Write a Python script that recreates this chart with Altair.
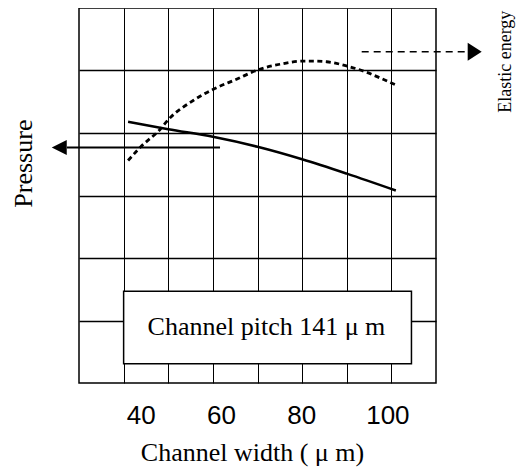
import altair as alt
import pandas as pd

# ---- data ----
pressure_x = [41, 50, 60, 70, 80, 90, 101]
pressure_y = [4.18, 4.06, 3.94, 3.78, 3.58, 3.35, 3.08]

energy_x = [41.0, 43.7, 48.2, 50.1, 55.6, 60.1, 65.3, 70.1, 75.0, 80.1, 82.4, 85.5, 90.1, 94.5, 97.5, 101.0]
energy_y = [3.56, 3.77, 4.06, 4.22, 4.52, 4.70, 4.86, 5.01, 5.10, 5.15, 5.15, 5.14, 5.07, 4.97, 4.88, 4.77]

x_domain = [30, 110]
y_domain = [0, 6]
x_grid = [40, 50, 60, 70, 80, 90, 100]
x_labels = [40, 60, 80, 100]
y_grid = [1, 2, 3, 4, 5]

box_x = [40, 104.5]
box_y = [0.31, 1.47]
box_text = "Channel pitch 141 \u03bc m"
box_text_pos = [72, 0.9]

pressure_arrow_x = [61.6, 27.3]
pressure_arrow_tip = 23.9
pressure_arrow_y = 3.77
energy_arrow_x = [93.35, 117.2]
energy_arrow_tip = 120.24
energy_arrow_y = 5.30

pressure_label = ["Pressure", 17.7, 3.51]
energy_label = ["Elastic energy", 125.6, 5.14]

SERIF = "Liberation Serif"
SANS = "Liberation Sans"

xs = alt.Scale(domain=x_domain, nice=False, zero=False)
ys = alt.Scale(domain=y_domain, nice=False, zero=False)

label_offset = {
    "condition": [
        {"test": "datum.value == 40", "value": 17},
        {"test": "datum.value == 60", "value": 8},
        {"test": "datum.value == 80", "value": -1},
        {"test": "datum.value == 100", "value": -4},
    ],
    "value": 0,
}

x_axis = alt.Axis(
    values=x_grid, grid=True, gridColor="black", gridWidth=1, gridOpacity=1,
    ticks=False, tickSize=0, domain=False,
    labelExpr="datum.value % 20 == 0 ? datum.label : ''",
    labelFont=SANS, labelFontSize=26, labelColor="black",
    labelBaseline="alphabetic", labelPadding=40, labelOffset=label_offset,
    title="Channel width ( \u03bc m)", titleFont=SERIF, titleFontSize=26,
    titleFontWeight="normal", titleColor="black",
    titleX=173, titleY=77, titleBaseline="alphabetic",
)
y_axis = alt.Axis(
    values=y_grid, grid=True, gridColor="black", gridWidth=1.3, gridOpacity=1,
    ticks=False, labels=False, domain=False, title=None,
)

pdf = pd.DataFrame({"x": pressure_x, "y": pressure_y})
edf = pd.DataFrame({"x": energy_x, "y": energy_y})

base_grid = alt.Chart(pd.DataFrame({"x": [x_domain[0]], "y": [y_domain[0]]})).mark_point(opacity=0).encode(
    x=alt.X("x:Q", scale=xs, axis=x_axis),
    y=alt.Y("y:Q", scale=ys, axis=y_axis),
)

box = alt.Chart(pd.DataFrame({"x": [box_x[0]], "x2": [box_x[1]], "y": [box_y[0]], "y2": [box_y[1]]})).mark_rect(
    fill="white", stroke="black", strokeWidth=1.5
).encode(x=alt.X("x:Q", scale=xs), x2="x2", y=alt.Y("y:Q", scale=ys), y2="y2")

box_label = alt.Chart(pd.DataFrame({"t": [box_text], "x": [box_text_pos[0]], "y": [box_text_pos[1]]})).mark_text(
    font=SERIF, fontSize=26, color="black", align="center", baseline="middle"
).encode(x=alt.X("x:Q", scale=xs), y=alt.Y("y:Q", scale=ys), text="t:N")

pressure_line = alt.Chart(pdf).mark_line(color="black", strokeWidth=2.5, interpolate="monotone").encode(
    x=alt.X("x:Q", scale=xs), y=alt.Y("y:Q", scale=ys)
)
energy_line = alt.Chart(edf).mark_line(color="black", strokeWidth=2.8, strokeDash=[5, 3.5], interpolate="monotone").encode(
    x=alt.X("x:Q", scale=xs), y=alt.Y("y:Q", scale=ys)
)

p_arrow = alt.Chart(pd.DataFrame({"x": pressure_arrow_x, "y": [pressure_arrow_y] * 2})).mark_line(
    color="black", strokeWidth=2
).encode(x=alt.X("x:Q", scale=xs), y=alt.Y("y:Q", scale=ys))
p_head = alt.Chart(pd.DataFrame({"x": [pressure_arrow_tip], "y": [pressure_arrow_y]})).mark_point(
    shape="M 0 0 L 1 -0.5 L 1 0.5 Z", size=900, filled=True, color="black", opacity=1, strokeWidth=0
).encode(x=alt.X("x:Q", scale=xs), y=alt.Y("y:Q", scale=ys))

e_arrow = alt.Chart(pd.DataFrame({"x": energy_arrow_x, "y": [energy_arrow_y] * 2})).mark_line(
    color="black", strokeWidth=1.6, strokeDash=[7, 5]
).encode(x=alt.X("x:Q", scale=xs), y=alt.Y("y:Q", scale=ys))
e_head = alt.Chart(pd.DataFrame({"x": [energy_arrow_tip], "y": [energy_arrow_y]})).mark_point(
    shape="M 0 0 L -1 -0.64 L -1 0.64 Z", size=784, filled=True, color="black", opacity=1, strokeWidth=0
).encode(x=alt.X("x:Q", scale=xs), y=alt.Y("y:Q", scale=ys))

side = pd.DataFrame({
    "t": [pressure_label[0], energy_label[0]],
    "x": [pressure_label[1], energy_label[1]],
    "y": [pressure_label[2], energy_label[2]],
    "s": [26, 18],
})
side_text = alt.Chart(side).mark_text(
    font=SERIF, color="black", align="center", baseline="middle", angle=270
).encode(
    x=alt.X("x:Q", scale=xs), y=alt.Y("y:Q", scale=ys), text="t:N",
    size=alt.Size("s:Q", scale=None, legend=None),
)

chart = alt.layer(
    base_grid, box, box_label, pressure_line, energy_line, p_arrow, p_head, e_arrow, e_head, side_text
).properties(
    width=357, height=375,
    autosize=alt.AutoSizeParams(type="none"),
    padding={"left": 71, "top": 0, "right": 80, "bottom": 84},
    background="white",
).configure_view(stroke="black", strokeWidth=1.5)

chart.save("out.html", embed_options={"renderer": "svg", "actions": False})
